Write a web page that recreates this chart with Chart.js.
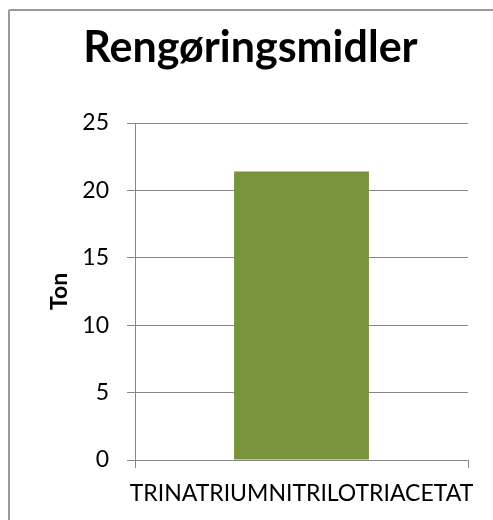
<!DOCTYPE html>
<html>
<head>
<meta charset="utf-8">
<script src="https://cdn.jsdelivr.net/npm/chart.js@4/dist/chart.umd.min.js"></script>
<style>
  html, body { margin: 0; padding: 0; background: #fff; }
  #wrap { position: relative; width: 493px; height: 520px; overflow: hidden; }
  #frame {
    position: absolute; left: 8px; top: 9px; width: 520px; height: 560px;
    border: 2px solid #9a9a9a; border-radius: 2px; pointer-events: none;
  }
</style>
</head>
<body>
<div id="wrap">
  <canvas id="chart" width="493" height="520"></canvas>
  <div id="frame"></div>
</div>
<script>
// Chart data
const categories = ['TRINATRIUMNITRILOTRIACETAT'];
const tons = [21.4];
const yTicks = [0, 5, 10, 15, 20, 25];

const FONT = 'Lato, "Open Sans", sans-serif';
const gridGray = '#878787';

const ctx = document.getElementById('chart');
new Chart(ctx, {
    type: 'bar',
    data: {
        labels: categories,
        datasets: [{
            label: 'Ton',
            data: tons,
            backgroundColor: '#77933C',
            borderWidth: 0,
            barPercentage: 0.405,
            categoryPercentage: 1
        }]
    },
    options: {
        responsive: false,
        animation: false,
        layout: { padding: { left: 33, right: 25, top: 0, bottom: 0 } },
        plugins: {
            legend: { display: false },
            tooltip: { enabled: false },
            title: {
                display: true,
                text: 'Rengøringsmidler',
                color: '#000',
                font: { family: FONT, size: 43, weight: 'bold', lineHeight: 1.2 },
                padding: { top: 22, bottom: 49.4 }
            }
        },
        scales: {
            x: {
                grid: { offset: true, drawOnChartArea: false, drawTicks: true, tickLength: 8, color: gridGray, lineWidth: 1 },
                border: { color: gridGray, width: 1 },
                ticks: { color: '#000', padding: 12, font: { family: FONT, size: 23 } },
                // long label may overhang the plot, as in the original
                afterFit: s => { s.height = 60; s.paddingLeft = 0; s.paddingRight = 0; }
            },
            y: {
                min: yTicks[0],
                max: yTicks[yTicks.length - 1],
                afterBuildTicks: s => { s.ticks = yTicks.map(v => ({ value: v })); },
                grid: { color: gridGray, lineWidth: 1, tickLength: 8 },
                border: { color: gridGray, width: 1 },
                ticks: { color: '#000', padding: 18, font: { family: FONT, size: 23 } },
                title: {
                    display: true,
                    text: 'Ton',
                    color: '#000',
                    font: { family: FONT, size: 23, weight: 'bold', lineHeight: 1.2 },
                    padding: { top: 13, bottom: 0 }
                },
                afterFit: s => { s.width = 102; }
            }
        }
    }
});
</script>
</body>
</html>
